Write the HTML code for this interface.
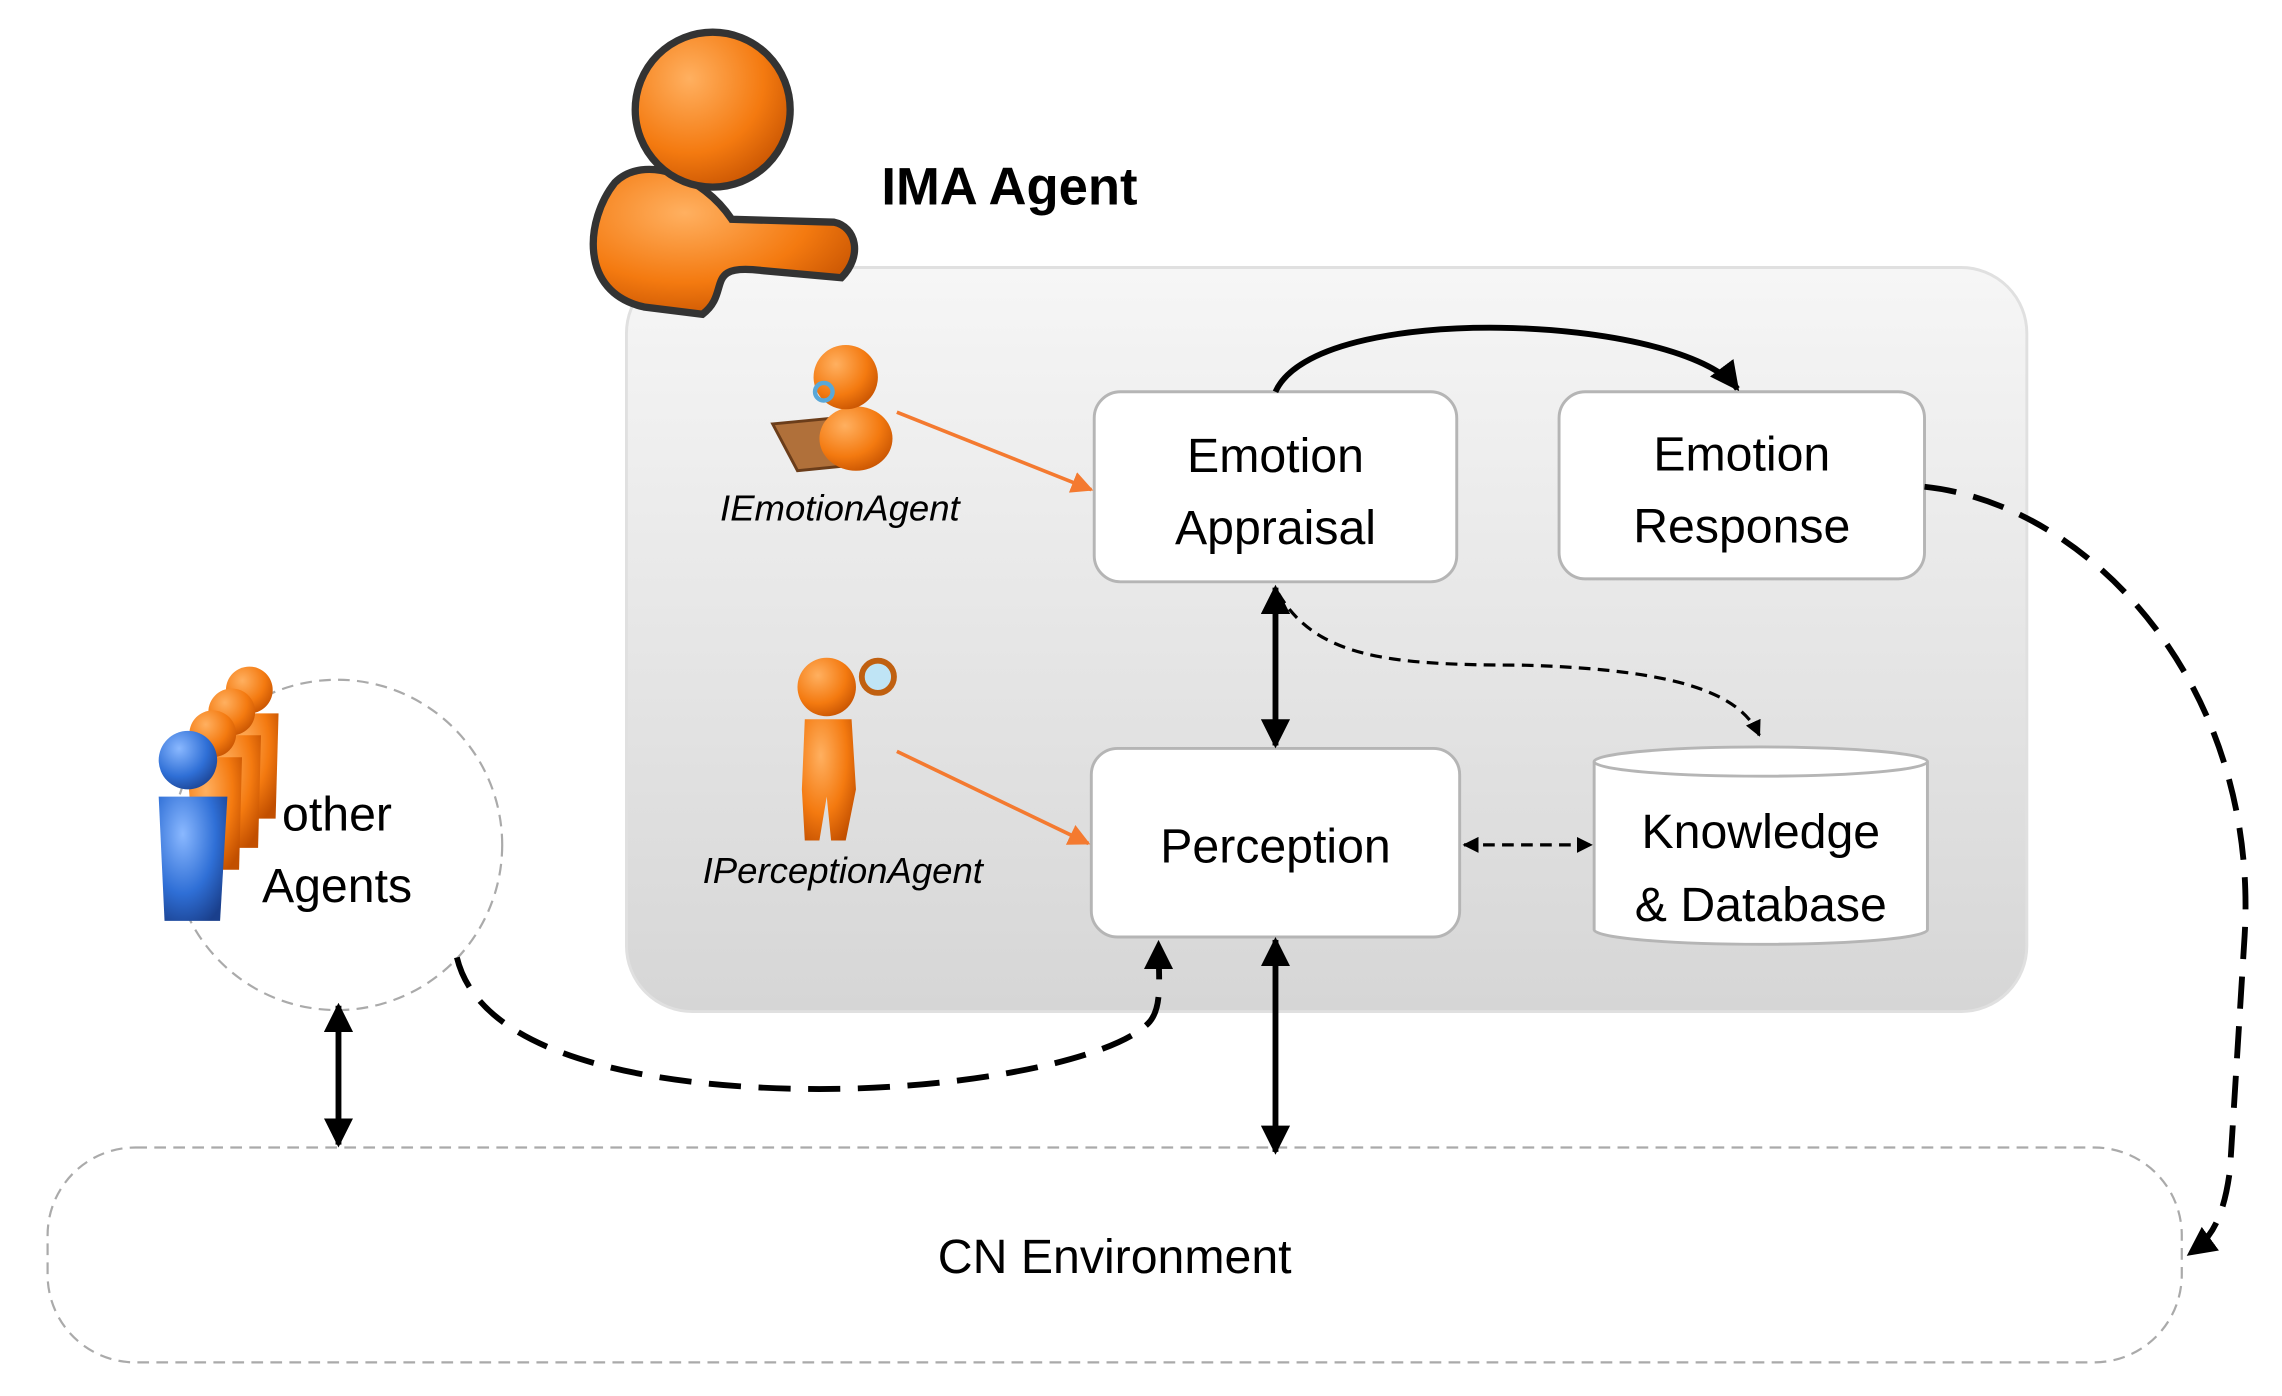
<!DOCTYPE html>
<html><head><style>html,body{margin:0;padding:0;background:#fff}svg{display:block}</style></head><body>
<svg width="2282" height="1396" viewBox="0 0 1560 955" xmlns="http://www.w3.org/2000/svg">
<defs>
<linearGradient id="g" x1="0" y1="0" x2="0" y2="1"><stop offset="0" stop-color="#f6f6f6"/><stop offset="1" stop-color="#d6d6d6"/></linearGradient>
<radialGradient id="o" cx="0.35" cy="0.3" r="0.8"><stop offset="0" stop-color="#ffb060"/><stop offset="0.6" stop-color="#f47a10"/><stop offset="1" stop-color="#c24f00"/></radialGradient>
<radialGradient id="b" cx="0.35" cy="0.3" r="0.8"><stop offset="0" stop-color="#8ab8ff"/><stop offset="0.6" stop-color="#2f6fd6"/><stop offset="1" stop-color="#1a3f8c"/></radialGradient>
<marker id="a" viewBox="0 0 10 10" refX="9" refY="5" markerWidth="5" markerHeight="5" orient="auto-start-reverse"><path d="M0,0L10,5L0,10z" fill="#000"/></marker>
<marker id="ao" viewBox="0 0 10 10" refX="9" refY="5" markerWidth="6" markerHeight="6" orient="auto"><path d="M0,0L10,5L0,10z" fill="#f47a30"/></marker>
</defs>
<rect x="428" y="183" width="958" height="509" rx="45" fill="url(#g)" stroke="#e0e0e0" stroke-width="2"/>
<rect x="32" y="785" width="1460" height="147" rx="60" fill="#fff" stroke="#aaa" stroke-width="1.5" stroke-dasharray="8,5"/>
<circle cx="230" cy="578" r="113" fill="#fff" stroke="#aaa" stroke-width="1.5" stroke-dasharray="8,5"/>
<g fill="#fff" stroke="#b5b5b5" stroke-width="2">
<rect x="748" y="268" width="248" height="130" rx="18"/>
<rect x="1066" y="268" width="250" height="128" rx="18"/>
<rect x="746" y="512" width="252" height="129" rx="18"/>
<path d="M1090,521 L1090,636 A114,10 0 0 0 1318,636 L1318,521"/>
<ellipse cx="1204" cy="521" rx="114" ry="10"/>
</g>
<g font-family="Liberation Sans, sans-serif" fill="#000" text-anchor="middle" font-size="33">
<text x="872" y="323">Emotion</text><text x="872" y="372">Appraisal</text>
<text x="1191" y="322">Emotion</text><text x="1191" y="371">Response</text>
<text x="872" y="590">Perception</text>
<text x="1204" y="580">Knowledge</text><text x="1204" y="630">&amp; Database</text>
<text x="230" y="568">other</text><text x="230" y="617">Agents</text>
<text x="762" y="871">CN Environment</text>
<text x="690" y="140" font-weight="bold" font-size="36">IMA Agent</text>
<text x="574" y="356" font-style="italic" font-size="25">IEmotionAgent</text>
<text x="576" y="604" font-style="italic" font-size="25">IPerceptionAgent</text>
</g>
<g fill="none" stroke="#000" stroke-width="4">
<path d="M872,268 C900,205 1150,215 1188,266" marker-end="url(#a)"/>
<path d="M872,402 L872,510" marker-start="url(#a)" marker-end="url(#a)"/>
<path d="M872,643 L872,788" marker-start="url(#a)" marker-end="url(#a)"/>
<path d="M231,688 L231,783" marker-start="url(#a)" marker-end="url(#a)"/>
<path d="M1316,333 C1430,345 1545,470 1535,640 L1525,800 C1520,840 1508,850 1497,858" stroke-dasharray="22,12" marker-end="url(#a)"/>
<path d="M312,655 C330,730 470,745 560,745 C660,745 760,725 785,700 C795,690 792,670 792,645" stroke-dasharray="22,12" marker-end="url(#a)"/>
</g>
<g fill="none" stroke="#000" stroke-width="2.2" stroke-dasharray="8,5">
<path d="M874,406 C900,450 950,455 1040,455 C1150,458 1190,475 1203,503" marker-end="url(#a)"/>
<path d="M1001,578 L1088,578" marker-start="url(#a)" marker-end="url(#a)"/>
</g>
<g stroke="#f47a30" stroke-width="2.5">
<line x1="613" y1="282" x2="746" y2="335" marker-end="url(#ao)"/>
<line x1="613" y1="514" x2="744" y2="577" marker-end="url(#ao)"/>
</g>
<!-- IMA agent figure -->
<g stroke="#333" stroke-width="5">
<path d="M420,125 C400,150 395,200 440,210 L480,215 C500,200 480,180 520,185 L575,190 C590,175 585,155 570,152 L500,150 C480,120 440,105 420,125z" fill="url(#o)"/>
<circle cx="487" cy="75" r="53" fill="url(#o)"/>
</g>
<!-- IEmotionAgent -->
<path d="M528,290 L570,286 L585,318 L545,322z" fill="#b0703a" stroke="#6b3d1a" stroke-width="2"/>
<ellipse cx="585" cy="300" rx="25" ry="22" fill="url(#o)"/>
<circle cx="578" cy="258" r="22" fill="url(#o)"/>
<circle cx="563" cy="268" r="6" fill="none" stroke="#5aa8d8" stroke-width="3"/>
<!-- IPerceptionAgent -->
<circle cx="565" cy="470" r="20" fill="url(#o)"/>
<path d="M550,492 L582,492 L585,540 L578,575 L568,575 L565,545 L560,575 L550,575 L548,540z" fill="url(#o)"/>
<circle cx="600" cy="463" r="11" fill="#bfe4f5" stroke="#c06010" stroke-width="4"/>
<!-- other agents -->
<g>
<circle cx="170" cy="472" r="16" fill="url(#o)"/><path d="M152,488 L190,488 L188,560 L160,560z" fill="url(#o)"/>
<circle cx="158" cy="487" r="16" fill="url(#o)"/><path d="M140,503 L178,503 L176,580 L146,580z" fill="url(#o)"/>
<circle cx="145" cy="502" r="16" fill="url(#o)"/><path d="M127,518 L165,518 L163,595 L133,595z" fill="url(#o)"/>
<circle cx="128" cy="520" r="20" fill="url(#b)"/><path d="M108,545 L155,545 L150,630 L112,630z" fill="url(#b)"/>
</g>
</svg>
</body></html>
